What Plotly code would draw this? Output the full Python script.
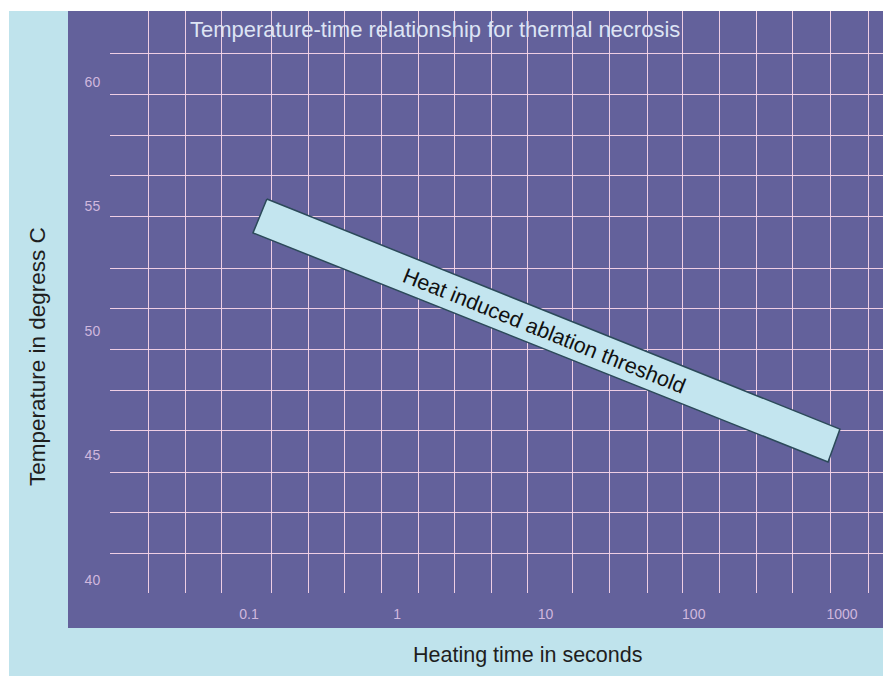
import numpy as np
import plotly.graph_objects as go

# ---------------- data ----------------
x_tick_vals = [0.1, 1, 10, 100, 1000]
x_tick_text = ["0.1", "1", "10", "100", "1000"]
y_tick_vals = [40, 45, 50, 55, 60]
y_tick_text = ["40", "45", "50", "55", "60"]

# corners of the "Heat induced ablation threshold" band (time s, temperature C)
band_time = [0.132, 0.1064, 805.0, 969.0]
band_temp = [55.30, 53.94, 44.74, 46.06]
band_label = "Heat induced ablation threshold"

title_text = "Temperature-time relationship for thermal necrosis"
x_title = "Heating time in seconds"
y_title = "Temperature in degress C"

# ---------------- layout / style constants ----------------
OFF = 8                      # page body margin
W, H = 891 - OFF, 676 - OFF
ML, MR, MT, MB = 102, 0, 3, 83
PW, PH = W - ML - MR, H - MT - MB
X_RIGHT = OFF + W - MR       # page pixel of plot right edge

def px(p):   # page pixel (x) -> paper
    return (p - OFF - ML) / PW

def py(p):   # page pixel (y) -> paper
    return (H - MB - (p - OFF)) / PH

# hand-drawn grid positions (page pixels)
grid_x_px = [110, 148, 185, 221, 271, 308, 344, 381, 418, 454, 491, 527,
             572, 609, 647, 682, 719, 756, 792, 830, 868]
grid_y_px = [12, 53, 94, 135, 175, 216, 268, 308, 349, 390, 430, 472, 512,
             553, 593]

PURPLE = "#63619b"
LIGHTBLUE = "#bfe3ec"
GRID = "rgba(245,212,232,0.95)"
TICKCOL = "#d0b8de"
BAND_FILL = "#c3e5ef"
BAND_LINE = "#2c4a5a"

# axis ranges chosen so that the ticks land where the picture has them
x_range_log = [-1 + (110 - 249) / 148.25, -1 + (X_RIGHT - 249) / 148.25]
y_range = [39.478, 62.85]

fig = go.Figure()

# band polygon
bt = band_time + band_time[:1]
bT = band_temp + band_temp[:1]
fig.add_trace(go.Scatter(
    x=bt, y=bT, mode="lines", fill="toself", fillcolor=BAND_FILL,
    line=dict(color=BAND_LINE, width=1.5), hoverinfo="skip", showlegend=False,
))

# empty trace to activate the grid axes
fig.add_trace(go.Scatter(x=[], y=[], xaxis="x2", yaxis="y2",
                         showlegend=False, hoverinfo="skip"))

cx = 10 ** np.mean(np.log10(band_time))
cy = float(np.mean(band_temp))

tickfont = dict(size=14, color=TICKCOL,
                family="Liberation Sans Narrow, Liberation Sans, Arial")

fig.update_layout(
    width=W, height=H,
    margin=dict(l=ML, r=MR, t=MT, b=MB, pad=0),
    paper_bgcolor=LIGHTBLUE,
    plot_bgcolor=PURPLE,
    showlegend=False,
    font=dict(family="Liberation Sans, Arial, sans-serif"),
    xaxis=dict(type="log", range=x_range_log, tickvals=x_tick_vals,
               ticktext=x_tick_text, showgrid=False, zeroline=False,
               showline=False, ticks="outside", ticklen=8,
               tickcolor="rgba(0,0,0,0)", tickfont=tickfont),
    yaxis=dict(range=y_range, tickvals=y_tick_vals, ticktext=y_tick_text,
               showgrid=False, zeroline=False, showline=False,
               ticks="outside", ticklen=6, tickcolor="rgba(0,0,0,0)",
               tickfont=tickfont),
    xaxis2=dict(overlaying="x", range=[110, X_RIGHT], tickvals=grid_x_px,
                showticklabels=False, showgrid=True, gridcolor=GRID,
                gridwidth=1, zeroline=False, showline=False, ticks=""),
    yaxis2=dict(overlaying="y", range=[593, 11], tickvals=grid_y_px,
                showticklabels=False, showgrid=True, gridcolor=GRID,
                gridwidth=1, zeroline=False, showline=False, ticks=""),
    shapes=[
        # white strips at top and left edges
        dict(type="rect", xref="paper", yref="paper", x0=px(0), x1=px(910),
             y0=py(11), y1=py(0), fillcolor="white", line=dict(width=0),
             layer="below"),
        dict(type="rect", xref="paper", yref="paper", x0=px(0), x1=px(9),
             y0=py(700), y1=py(0), fillcolor="white", line=dict(width=0),
             layer="below"),
        # purple panel extending into the margins
        dict(type="rect", xref="paper", yref="paper", x0=px(68), x1=px(910),
             y0=py(628), y1=py(11), fillcolor=PURPLE, line=dict(width=0),
             layer="below"),
    ],
    annotations=[
        dict(text=title_text, xref="paper", yref="paper", x=px(188),
             y=py(30), xanchor="left", yanchor="middle", showarrow=False,
             font=dict(size=22, color="#dde4f4")),
        dict(text=x_title, xref="paper", yref="paper", x=px(527),
             y=py(655), xanchor="center", yanchor="middle", showarrow=False,
             font=dict(size=21.5, color="#1e1e1e")),
        dict(text=y_title, xref="paper", yref="paper", x=px(37),
             y=py(357), xanchor="center", yanchor="middle", showarrow=False,
             textangle=-90, font=dict(size=22.5, color="#1e1e1e")),
        dict(text=band_label, x=np.log10(cx) - 0.02, y=cy, xref="x", yref="y",
             showarrow=False, textangle=21.9,
             font=dict(size=21.5, color="#111111")),
    ],
)

fig.write_html("out.html")
